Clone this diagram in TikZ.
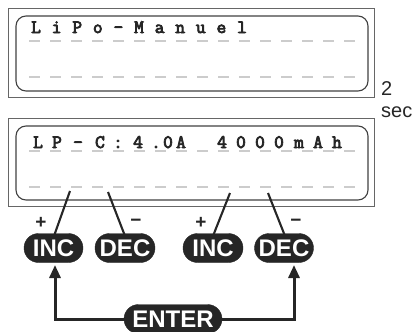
\documentclass[tikz,border=0pt]{standalone}
\usepackage{fontspec}
\setmainfont{Liberation Sans}
\newfontfamily\lcdfont{Latin Modern Mono}[FakeBold=4]
\usetikzlibrary{arrows.meta}
\tikzset{
  frame/.style={draw=black!60, line width=1pt},
  lcdbox/.style={draw=black!75, line width=1.1pt, rounded corners=10pt},
  seg/.style={draw=black!20, line width=1.3pt},
  lcdchar/.style={font=\lcdfont\fontsize{19}{19}\selectfont, text=black!85, anchor=base, inner sep=0pt},
  key/.style={fill=black!85, draw=black!85, rounded corners=14.5pt, text=white,
    font=\bfseries\fontsize{24}{24}\selectfont, minimum height=29pt, inner sep=0pt},
  sign/.style={font=\bfseries\fontsize{19}{19}\selectfont, text=black!85, inner sep=0pt},
  lead/.style={draw=black!85, line width=2.1pt},
  flow/.style={draw=black!85, line width=3pt, -{Triangle[length=13pt,width=11pt]}},
  note/.style={font=\fontsize{20}{20}\selectfont, text=black!85, anchor=base west, inner sep=0pt}
}
\begin{document}
\begin{tikzpicture}[x=1pt,y=-1pt]
\useasboundingbox (0,0) rectangle (418,332);
% display 1
\draw[frame] (8,8) rectangle (374,97);
\draw[lcdbox] (16,16) rectangle (368,91);
\foreach \i in {0,...,15} {
  \draw[seg] ({29+21*\i},41) -- ++(11,0);
  \draw[seg] ({29+21*\i},77) -- ++(11,0);
}
\foreach \x/\c [count=\n] in {36/L,56.6/i,77.2/P,97.8/o,118.4/-,139/M,159.6/a,180.2/n,200.8/u,221.4/e,242/l}
  \node[lcdchar] (a\n) at (\x,33) {\c};
% display 2
\draw[frame] (8,118) rectangle (374,206);
\draw[lcdbox] (16,126) rectangle (368,200);
\foreach \i in {0,...,15} {
  \draw[seg] ({29+21*\i},151) -- ++(11,0);
  \draw[seg] ({29+21*\i},187) -- ++(11,0);
}
\foreach \x/\c [count=\n] in {38/L,57/P,78/-,100/C,118/:,138/4,156/.,168/0,181/A,222/4,241/0,260/0,279/0,299/m,318/A,337/h}
  \node[lcdchar] (b\n) at (\x,148) {\c};
% time note
\node[note] (two) at (381,95) {2};
\node[note] (sec) at (381,117) {sec};
% leads from display to keys
\coordinate (s1) at (70,191);
\coordinate (s2) at (108,192);
\coordinate (s3) at (230,193);
\coordinate (s4) at (268,193);
\coordinate (e1) at (54,236);
\coordinate (e2) at (125,236);
\coordinate (e3) at (213,236);
\coordinate (e4) at (285,236);
\draw[lead] (s1) -- (e1);
\draw[lead] (s2) -- (e2);
\draw[lead] (s3) -- (e3);
\draw[lead] (s4) -- (e4);
% keys
\node[key, minimum width=59pt] (inc1) at (53.5,248) {INC};
\node[key, minimum width=60pt] (dec1) at (125,248) {DEC};
\node[key, minimum width=60pt] (inc2) at (213,248) {INC};
\node[key, minimum width=59pt] (dec2) at (284,248) {DEC};
\node[key, minimum width=98pt] (enter) at (173,319) {ENTER};
\node[sign] (p1) at (41,223) {+};
\node[sign] (m1) at (136,223) {−};
\node[sign] (p2) at (201,223) {+};
\node[sign] (m2) at (296,223) {−};
% enter arrows
\coordinate (tipL) at (55,265);
\coordinate (tipR) at (294,265);
\draw[flow] (enter.west) -| (tipL);
\draw[flow] (enter.east) -| (tipR);
\end{tikzpicture}
\end{document}
